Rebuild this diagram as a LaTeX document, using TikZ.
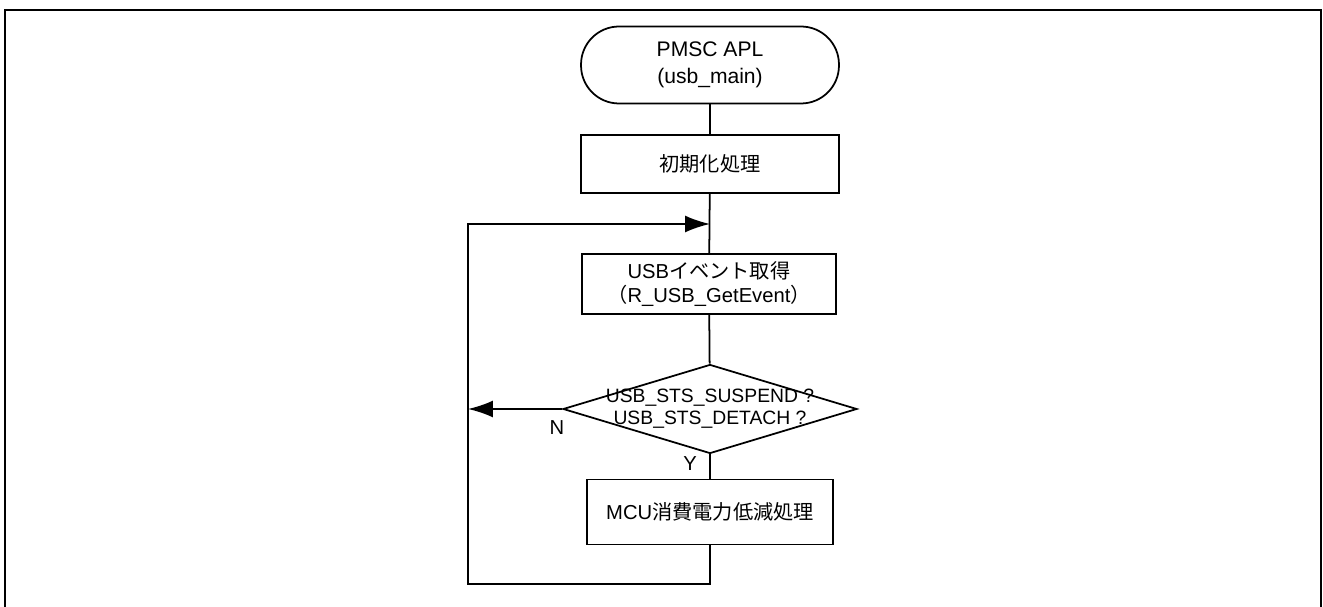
\documentclass[tikz,border=0pt]{standalone}
\usepackage{fontspec}
\setmainfont{Liberation Sans}
\newfontfamily\jpfont{Noto Sans CJK JP}
\usetikzlibrary{positioning, calc, shapes.geometric, arrows.meta}

\tikzset{
    proc/.style={draw, minimum width=5.1cm, minimum height=1.2cm, align=center},
    arr/.style={-{Latex[length=0.5cm, width=0.34cm]}}
}

\begin{document}
\begin{tikzpicture}[x=0.02cm, y=-0.02cm, line width=1pt, font=\fontsize{11.5}{14}\selectfont]
    \useasboundingbox (0,0) rectangle (1323,607);
    \draw[line width=1.6pt] (5,607) -- (5,10) -- (1321,10) -- (1321,607);

    \node (Start) at (710,65) [draw, rounded corners=0.76cm, minimum width=5.16cm, minimum height=1.54cm, align=center, font=\fontsize{12}{15}\selectfont] {PMSC APL\\(usb\_main)};
    \node (Init) at (710,164) [proc, minimum width=5.16cm, minimum height=1.16cm] {\jpfont 初期化処理};
    \node (Evt) at (709,284) [proc, minimum width=5.08cm, minimum height=1.2cm] {USB{\jpfont イベント取得}\\{\jpfont （}R\_USB\_GetEvent{\jpfont ）}};
    \node (Chk) at (710,409) [draw, diamond, inner sep=0pt, minimum width=5.88cm, minimum height=1.78cm] {};
    \node (ChkTxt) at (Chk) [align=center, font=\fontsize{11}{12.5}\selectfont] {USB\_STS\_SUSPEND ?\\USB\_STS\_DETACH ?};
    \node (Low) at (710,512) [proc, minimum width=4.92cm, minimum height=1.3cm] {MCU{\jpfont 消費電力低減処理}};

    \coordinate (LoopIn) at (710,224);
    \coordinate (LoopTL) at (468,224);
    \coordinate (LoopBL) at (468,584);
    \coordinate (NEnd) at (468,409);

    \draw (Start) -- (Init);
    \draw (Init) -- (Evt);
    \draw (Evt) -- (Chk);
    \draw (Chk) -- (Low);
    \draw[arr] (Low.south) |- (LoopBL) -- (LoopTL) -- (LoopIn);
    \draw[arr] (Chk.west) -- (NEnd);

    \node (NLbl) at (557,428) {N};
    \node (YLbl) at (690,464) {Y};
\end{tikzpicture}
\end{document}
